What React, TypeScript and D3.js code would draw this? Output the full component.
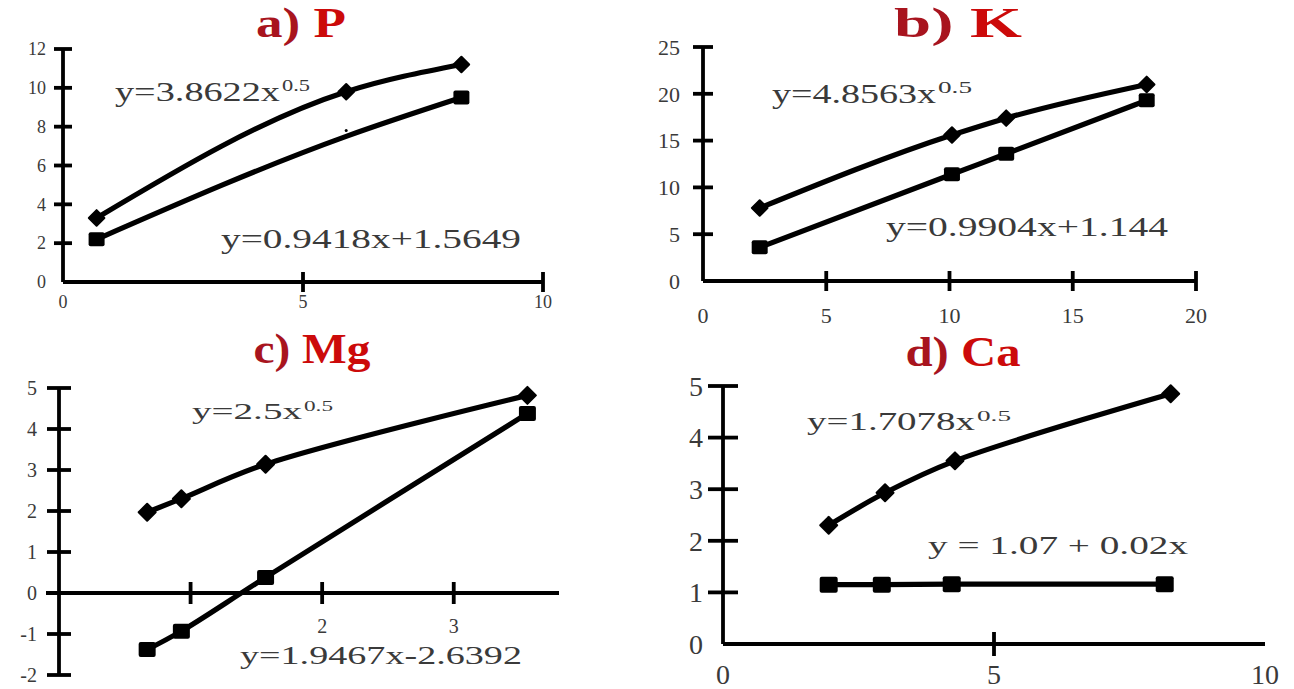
import React from "react";
import * as d3 from "d3";

// ---------- data ----------
// a) P
const aX = [0.7, 5.9, 8.3];
const aPower = [3.3, 9.8, 11.2];
const aLinear = [2.2, 7.5, 9.5];
const aYTicks = [0, 2, 4, 6, 8, 10, 12];
const aXTicks = [0, 5, 10];

// b) K
const bX = [2.3, 10.1, 12.3, 18];
const bPower = [7.8, 15.6, 17.4, 21.0];
const bLinear = [3.6, 11.4, 13.6, 19.3];
const bYTicks = [0, 5, 10, 15, 20, 25];
const bXTicks = [0, 5, 10, 15, 20];

// c) Mg
const cX = [0.67, 0.93, 1.57, 3.56];
const cPower = [1.97, 2.3, 3.14, 4.82];
const cLinear = [-1.38, -0.93, 0.38, 4.38];
const cYTicks = [-2, -1, 0, 1, 2, 3, 4, 5];
const cXTicks = [1, 2, 3];
const cXLabels = [2, 3];

// d) Ca
const dXPower = [1.95, 2.99, 4.28, 8.26];
const dPower = [2.3, 2.93, 3.55, 4.85];
const dXLinear = [1.95, 2.93, 4.22, 8.15];
const dLinear = [1.15, 1.15, 1.16, 1.16];
const dYTicks = [0, 1, 2, 3, 4, 5];
const dXTicks = [0, 5, 10];

const FONT = "'Liberation Serif', 'Times New Roman', serif";
const RED_DARK = "#a8141e";
const RED = "#cc0a0a";
const TXT = "#3a3a3a";

type Pt = [number, number];

function Diamond({ x, y, s }: { x: number; y: number; s: number }) {
  return <rect x={-s / 2} y={-s / 2} width={s} height={s} rx={1} transform={`translate(${x},${y}) rotate(45)`} fill="#000" />;
}
function Square({ x, y, w, h }: { x: number; y: number; w: number; h: number }) {
  return <rect x={x - w / 2} y={y - h / 2} width={w} height={h} rx={2} fill="#000" />;
}

function Eq({ x, y, size, main, mainLen, sup, supX, supLen }: any) {
  return (
    <g fill={TXT} fontFamily={FONT}>
      <text x={x} y={y} fontSize={size} textLength={mainLen} lengthAdjust="spacingAndGlyphs">{main}</text>
      {sup ? (
        <text x={supX} y={y - size * 0.36} fontSize={size * 0.6} textLength={supLen} lengthAdjust="spacingAndGlyphs">{sup}</text>
      ) : null}
    </g>
  );
}

function Title({ cx, y, letter, sym, len }: any) {
  return (
    <text x={cx - len / 2} y={y} fontSize={43} fontWeight="bold" fontFamily={FONT} textLength={len} lengthAdjust="spacingAndGlyphs">
      <tspan fill={RED_DARK}>{letter} </tspan>
      <tspan fill={RED}>{sym}</tspan>
    </text>
  );
}

function Panel(props: any) {
  const { x, y, xs, power, linear, xAxisFrom, xAxisTo, yAxisFrom, yAxisTo, yAxisAt, yTickVals, yTickHalf,
    yLabels, yLabelX, xTickVals, xTickHalf, xLabels, xLabelY, fontSize, curvePower, curveLinear, dSize, sqW, sqH, smallIdx } = props;
  const axisW = 3.8;
  const lineW = 5.2;
  const pPts: Pt[] = xs.power.map((v: number, i: number) => [x(v), y(power[i])]);
  const lPts: Pt[] = xs.linear.map((v: number, i: number) => [x(v), y(linear[i])]);
  const lp = d3.line().curve(curvePower)(pPts) as string;
  const ll = d3.line().curve(curveLinear)(lPts) as string;
  const y0 = y(yAxisAt);
  return (
    <g>
      <line x1={x(0)} x2={x(0)} y1={y(yAxisFrom)} y2={y(yAxisTo)} stroke="#000" strokeWidth={axisW} />
      <line x1={xAxisFrom} x2={xAxisTo} y1={y0} y2={y0} stroke="#000" strokeWidth={axisW} />
      {yTickVals.map((v: number) => (
        <line key={"yt" + v} x1={x(0) - yTickHalf} x2={x(0) + yTickHalf} y1={y(v)} y2={y(v)} stroke="#000" strokeWidth={axisW} />
      ))}
      {xTickVals.map((v: number) => (
        <line key={"xt" + v} x1={x(v)} x2={x(v)} y1={y0 - xTickHalf} y2={y0 + xTickHalf} stroke="#000" strokeWidth={axisW} />
      ))}
      {yLabels.map((v: number) => (
        <text key={"yl" + v} x={yLabelX} y={y(v)} dy="0.35em" textAnchor="end" fontSize={fontSize} fontFamily={FONT} fill={TXT}>{v}</text>
      ))}
      {xLabels.map((v: number) => (
        <text key={"xl" + v} x={x(v)} y={xLabelY} textAnchor="middle" fontSize={fontSize} fontFamily={FONT} fill={TXT}>{v}</text>
      ))}
      <path d={lp} fill="none" stroke="#000" strokeWidth={lineW} strokeLinejoin="round" />
      <path d={ll} fill="none" stroke="#000" strokeWidth={lineW} strokeLinejoin="round" />
      {pPts.map((p, i) => <Diamond key={"d" + i} x={p[0]} y={p[1]} s={dSize} />)}
      {lPts.map((p, i) =>
        smallIdx === i ? <Square key={"s" + i} x={p[0]} y={p[1] - 6} w={3} h={3} /> : <Square key={"s" + i} x={p[0]} y={p[1]} w={sqW} h={sqH} />
      )}
    </g>
  );
}

export default function App() {
  const cr = d3.curveCatmullRom.alpha(0.5);
  const mono = d3.curveMonotoneX;

  const ax = d3.scaleLinear().domain([0, 10]).range([63, 543]);
  const ay = d3.scaleLinear().domain([0, 12]).range([282, 49]);
  const bx = d3.scaleLinear().domain([0, 20]).range([703, 1196]);
  const by = d3.scaleLinear().domain([0, 25]).range([281, 47]);
  const cx = d3.scaleLinear().domain([0, 3.8]).range([59, 559]);
  const cy = d3.scaleLinear().domain([-2, 5]).range([675, 388]);
  const dx = d3.scaleLinear().domain([0, 10]).range([723, 1265]);
  const dy = d3.scaleLinear().domain([0, 5]).range([644, 386]);

  return (
    <svg width={1294} height={689} style={{ position: "absolute", left: 0, top: 0, background: "#fff" }}>
      <rect width={1294} height={689} fill="#fff" />

      <Title cx={301} y={37} letter="a)" sym="P" len={90} />
      <Title cx={958} y={37} letter="b)" sym="K" len={128} />
      <Title cx={312} y={363} letter="c)" sym="Mg" len={117} />
      <Title cx={963} y={366} letter="d)" sym="Ca" len={115} />

      <Panel x={ax} y={ay} xs={{ power: aX, linear: aX }} power={aPower} linear={aLinear}
        xAxisFrom={ax(0)} xAxisTo={ax(10)} yAxisFrom={0} yAxisTo={12} yAxisAt={0}
        yTickVals={aYTicks.slice(1)} yTickHalf={9} yLabels={aYTicks} yLabelX={ax(0) - 17}
        xTickVals={[5, 10]} xTickHalf={10} xLabels={aXTicks} xLabelY={ay(0) + 26} fontSize={18}
        curvePower={mono} curveLinear={mono} dSize={13} sqW={16} sqH={14} smallIdx={1} />

      <Panel x={bx} y={by} xs={{ power: bX, linear: bX }} power={bPower} linear={bLinear}
        xAxisFrom={bx(0)} xAxisTo={bx(20)} yAxisFrom={0} yAxisTo={25} yAxisAt={0}
        yTickVals={bYTicks.slice(1)} yTickHalf={10} yLabels={bYTicks} yLabelX={bx(0) - 23}
        xTickVals={[5, 10, 15, 20]} xTickHalf={10} xLabels={bXTicks} xLabelY={by(0) + 42} fontSize={22}
        curvePower={mono} curveLinear={mono} dSize={13} sqW={16} sqH={14} smallIdx={-1} />

      <Panel x={cx} y={cy} xs={{ power: cX, linear: cX }} power={cPower} linear={cLinear}
        xAxisFrom={cx(0) - 13} xAxisTo={cx(3.8)} yAxisFrom={-2} yAxisTo={5} yAxisAt={0}
        yTickVals={cYTicks} yTickHalf={12} yLabels={cYTicks} yLabelX={cx(0) - 22}
        xTickVals={cXTicks} xTickHalf={11} xLabels={cXLabels} xLabelY={cy(0) + 40} fontSize={20}
        curvePower={cr} curveLinear={cr} dSize={14} sqW={17} sqH={15} smallIdx={-1} />

      <Panel x={dx} y={dy} xs={{ power: dXPower, linear: dXLinear }} power={dPower} linear={dLinear}
        xAxisFrom={dx(0)} xAxisTo={dx(10)} yAxisFrom={0} yAxisTo={5} yAxisAt={0}
        yTickVals={dYTicks.slice(1)} yTickHalf={15} yLabels={dYTicks} yLabelX={dx(0) - 20}
        xTickVals={[5]} xTickHalf={12} xLabels={dXTicks} xLabelY={dy(0) + 40} fontSize={28}
        curvePower={cr} curveLinear={mono} dSize={14} sqW={18} sqH={16} smallIdx={-1} />

      <Eq x={115} y={101} size={27} main="y=3.8622x" mainLen={165} sup="0.5" supX={282} supLen={28} />
      <Eq x={221} y={248} size={27} main="y=0.9418x+1.5649" mainLen={300} />
      <Eq x={772} y={103} size={27} main="y=4.8563x" mainLen={164} sup="0.5" supX={938} supLen={34} />
      <Eq x={886} y={236} size={27} main="y=0.9904x+1.144" mainLen={282} />
      <Eq x={192} y={419} size={23} main="y=2.5x" mainLen={110} sup="0.5" supX={304} supLen={29} />
      <Eq x={240} y={664} size={25} main="y=1.9467x-2.6392" mainLen={282} />
      <Eq x={807} y={430} size={26} main="y=1.7078x" mainLen={168} sup="0.5" supX={977} supLen={34} />
      <Eq x={928} y={554} size={26} main="y = 1.07 + 0.02x" mainLen={260} />
    </svg>
  );
}
